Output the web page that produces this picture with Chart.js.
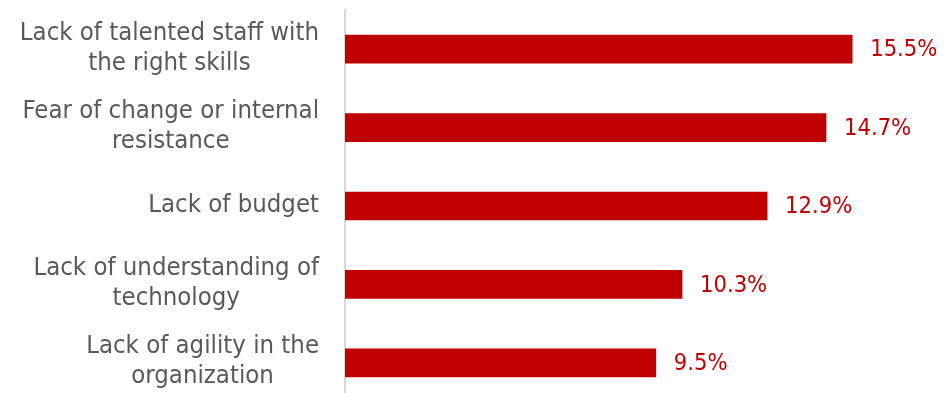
<!DOCTYPE html>
<html>
<head>
<meta charset="utf-8">
<script src="https://cdn.jsdelivr.net/npm/chart.js@4.4.1/dist/chart.umd.min.js"></script>
<style>
    html, body { margin: 0; padding: 0; overflow: hidden; background: #fff; }
    #wrap { width: 949px; height: 402px; position: relative; }
</style>
</head>
<body>
<div id="wrap"><canvas id="mycanvas"></canvas></div>
<script>
// Daten
var categories = [
    ["Lack of talented staff with", "the right skills"],
    ["Fear of change or internal", "resistance"],
    ["Lack of budget"],
    ["Lack of understanding of", "technology"],
    ["Lack of agility in the", "organization"]
];
var values = [15.5, 14.7, 12.9, 10.3, 9.5];
var valueLabels = ["15.5%", "14.7%", "12.9%", "10.3%", "9.5%"];

var fontFamily = "'DejaVu Sans Condensed', 'DejaVu Sans', sans-serif";
var labelSize = 25.5;
var lineGap = 30;

// Kategorien links: Block rechtsbuendig, Zeilen zentriert (wie im Original)
var categoryLabels = {
    id: 'categoryLabels',
    afterDraw: function (chart) {
        var ctx = chart.ctx;
        var yScale = chart.scales.y;
        ctx.save();
        ctx.fillStyle = '#595959';
        ctx.font = labelSize + 'px ' + fontFamily;
        ctx.textBaseline = 'middle';
        ctx.textAlign = 'center';
        categories.forEach(function (lines, i) {
            var y = yScale.getPixelForTick(i);
            var widest = 0;
            lines.forEach(function (l) { widest = Math.max(widest, ctx.measureText(l).width); });
            var cx = yScale.right - 26 - widest / 2;
            lines.forEach(function (l, k) {
                ctx.fillText(l, cx, y + (k - (lines.length - 1) / 2) * lineGap - 1);
            });
        });
        ctx.restore();
    }
};

// Werte rechts neben die Balken schreiben
var barLabels = {
    id: 'barLabels',
    afterDatasetsDraw: function (chart) {
        var ctx = chart.ctx;
        var meta = chart.getDatasetMeta(0);
        ctx.save();
        ctx.fillStyle = '#c00000';
        ctx.font = '23.5px ' + fontFamily;
        ctx.textBaseline = 'middle';
        ctx.textAlign = 'left';
        meta.data.forEach(function (bar, i) {
            ctx.fillText(valueLabels[i], bar.x + 18, bar.y + 1);
        });
        ctx.restore();
    }
};

var ctx = document.getElementById('mycanvas');
var chart = new Chart(ctx, {
    type: 'bar',
    data: {
        labels: categories,
        datasets: [{
            data: values,
            backgroundColor: '#c00000',
            borderWidth: 0,
            barThickness: 28
        }]
    },
    options: {
        indexAxis: 'y',
        responsive: true,
        maintainAspectRatio: false,
        animation: false,
        layout: { padding: { top: 10, right: 15, bottom: 0, left: 0 } },
        plugins: {
            legend: { display: false },
            tooltip: { enabled: false }
        },
        scales: {
            x: {
                display: false,
                min: 0,
                max: 18
            },
            y: {
                afterFit: function (scale) {
                    scale.width = 345;
                    scale.paddingTop = 0;
                    scale.paddingBottom = 0;
                },
                grid: { display: false, drawTicks: false },
                border: { display: true, color: '#d9d9d9', width: 2 },
                ticks: { display: false }
            }
        }
    },
    plugins: [barLabels, categoryLabels]
});
</script>
</body>
</html>
